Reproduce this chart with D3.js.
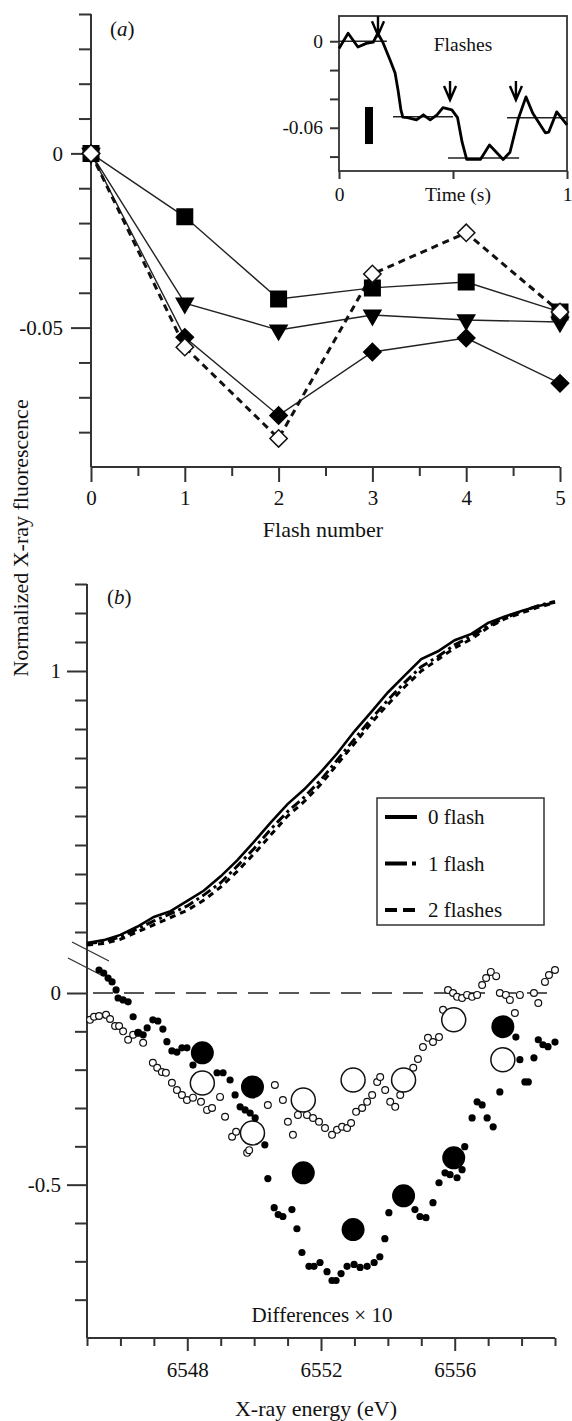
<!DOCTYPE html>
<html>
<head>
<meta charset="utf-8">
<script src="https://cdn.jsdelivr.net/npm/d3@7"></script>
<style>
  body { margin: 0; background: #fff; }
  svg { display: block; }
</style>
</head>
<body>
<svg id="chart" width="572" height="1421"></svg>
<script>
// ---- panel (a): flash series ----
var flashNumbers = [0, 1, 2, 3, 4, 5];
var squareVals = [0, -0.0182, -0.0418, -0.0386, -0.0369, -0.0455];
var triangleVals = [0, -0.043, -0.0507, -0.0464, -0.0478, -0.0484];
var diamondVals = [0, -0.0528, -0.0752, -0.057, -0.053, -0.066];
var openDiamondVals = [0, -0.0556, -0.0818, -0.0346, -0.0228, -0.0455];

// ---- inset: time trace ----
var insetTime = [0, 0.04, 0.083, 0.12, 0.15, 0.17, 0.193, 0.224, 0.246, 0.259, 0.272, 0.28, 0.30, 0.34, 0.37, 0.40, 0.43, 0.456, 0.495, 0.52, 0.54, 0.56, 0.62, 0.66, 0.72, 0.75, 0.785, 0.82, 0.85, 0.905, 0.92, 0.955, 1.0];
var insetSignal = [-0.005, 0.0055, -0.004, -0.0015, -0.0007, 0.0055, -0.001, -0.013, -0.022, -0.034, -0.048, -0.0527, -0.053, -0.0545, -0.051, -0.0545, -0.051, -0.046, -0.0476, -0.053, -0.070, -0.082, -0.082, -0.072, -0.082, -0.077, -0.0545, -0.0386, -0.05, -0.0635, -0.063, -0.049, -0.058];
var levelStart = [0, 0.237, 0.478, 0.737];
var levelEnd = [0.21, 0.5, 0.79, 1.0];
var levelValue = [0, -0.0524, -0.081, -0.053];
var arrowTime = [0.171, 0.487, 0.776];
var arrowTip = [0.0042, -0.0408, -0.0408];

// ---- panel (b): edge spectra ----
var edgeEnergy = [6545, 6545.5, 6546, 6546.5, 6547, 6547.5, 6548, 6548.5, 6549, 6549.5, 6550, 6550.5, 6551, 6551.5, 6552, 6552.5, 6553, 6553.5, 6554, 6554.5, 6555, 6555.5, 6556, 6556.5, 6557, 6557.5, 6558, 6558.5, 6559];
var flash0 = [0.062, 0.072, 0.09, 0.118, 0.152, 0.172, 0.207, 0.243, 0.292, 0.348, 0.412, 0.478, 0.541, 0.592, 0.652, 0.718, 0.792, 0.858, 0.926, 0.984, 1.041, 1.068, 1.106, 1.128, 1.166, 1.188, 1.207, 1.224, 1.236];
var flash1 = [0.06, 0.066, 0.083, 0.11, 0.138, 0.163, 0.19, 0.228, 0.27, 0.328, 0.388, 0.455, 0.515, 0.565, 0.625, 0.695, 0.765, 0.835, 0.9, 0.96, 1.015, 1.05, 1.09, 1.12, 1.155, 1.183, 1.205, 1.225, 1.24];
var flash2 = [0.055, 0.06, 0.075, 0.1, 0.125, 0.15, 0.175, 0.21, 0.255, 0.31, 0.37, 0.435, 0.5, 0.55, 0.61, 0.68, 0.75, 0.82, 0.885, 0.945, 1.0, 1.04, 1.08, 1.11, 1.15, 1.18, 1.2, 1.22, 1.235];

// differences x 10
var filledDotE = [6545.36, 6545.5, 6545.63, 6545.75, 6545.87, 6545.93, 6546.08, 6546.23, 6546.38, 6546.53, 6546.68, 6546.8, 6546.97, 6547.12, 6547.27, 6547.39, 6547.54, 6547.69, 6547.84, 6547.99, 6548.17, 6548.89, 6549.07, 6549.28, 6549.43, 6549.58, 6549.73, 6549.88, 6550.03, 6550.32, 6550.41, 6550.6, 6550.72, 6550.86, 6551.13, 6551.28, 6551.43, 6551.64, 6551.79, 6551.97, 6552.18, 6552.33, 6552.45, 6552.6, 6552.78, 6552.99, 6553.17, 6553.38, 6553.59, 6553.76, 6553.91, 6554.03, 6554.81, 6554.96, 6555.14, 6555.35, 6555.53, 6555.71, 6555.86, 6556.07, 6556.22, 6556.3, 6556.52, 6556.67, 6556.82, 6556.97, 6557.15, 6557.35, 6557.83, 6557.95, 6558.1, 6558.2, 6558.37, 6558.5, 6558.64, 6558.79, 6559.0];
var filledDotV = [0.06, 0.052, 0.039, 0.029, 0.008, -0.013, -0.018, -0.023, -0.062, -0.104, -0.109, -0.091, -0.07, -0.073, -0.094, -0.127, -0.151, -0.154, -0.143, -0.143, -0.188, -0.208, -0.208, -0.227, -0.266, -0.297, -0.305, -0.313, -0.326, -0.396, -0.484, -0.56, -0.578, -0.583, -0.565, -0.615, -0.677, -0.713, -0.713, -0.703, -0.727, -0.75, -0.75, -0.732, -0.713, -0.708, -0.716, -0.713, -0.703, -0.688, -0.641, -0.573, -0.565, -0.583, -0.586, -0.547, -0.495, -0.469, -0.474, -0.482, -0.461, -0.401, -0.326, -0.284, -0.292, -0.326, -0.349, -0.258, -0.115, -0.174, -0.232, -0.232, -0.169, -0.122, -0.135, -0.14, -0.128];
var openDotE = [6545.09, 6545.21, 6545.36, 6545.57, 6545.69, 6545.84, 6545.96, 6546.08, 6546.23, 6546.38, 6546.53, 6546.68, 6546.97, 6547.1, 6547.24, 6547.36, 6547.54, 6547.69, 6547.84, 6547.99, 6548.17, 6548.41, 6548.59, 6548.74, 6548.98, 6549.13, 6549.34, 6549.46, 6549.79, 6549.85, 6550.41, 6550.62, 6550.86, 6551.01, 6551.16, 6551.31, 6551.58, 6551.76, 6551.94, 6552.12, 6552.33, 6552.48, 6552.63, 6552.78, 6552.9, 6553.05, 6553.23, 6553.38, 6553.53, 6553.68, 6553.77, 6553.92, 6554.07, 6554.22, 6554.37, 6554.76, 6554.9, 6555.05, 6555.2, 6555.35, 6555.53, 6555.65, 6555.8, 6555.95, 6556.07, 6556.22, 6556.37, 6556.52, 6556.67, 6556.82, 6556.94, 6557.08, 6557.24, 6557.35, 6557.53, 6557.65, 6557.8, 6557.95, 6558.37, 6558.5, 6558.7, 6558.82, 6559.0];
var openDotV = [-0.07, -0.062, -0.06, -0.057, -0.068, -0.086, -0.086, -0.1, -0.122, -0.109, -0.104, -0.13, -0.182, -0.195, -0.206, -0.208, -0.234, -0.253, -0.266, -0.279, -0.273, -0.284, -0.305, -0.3, -0.271, -0.323, -0.375, -0.362, -0.417, -0.41, -0.292, -0.24, -0.279, -0.336, -0.37, -0.318, -0.318, -0.326, -0.336, -0.352, -0.37, -0.357, -0.349, -0.352, -0.339, -0.31, -0.3, -0.284, -0.266, -0.232, -0.219, -0.253, -0.284, -0.297, -0.266, -0.195, -0.172, -0.141, -0.117, -0.128, -0.115, -0.044, 0.008, 0, -0.01, -0.013, -0.005, -0.01, -0.005, 0.021, 0.039, 0.055, 0.044, 0, -0.005, -0.018, -0.052, -0.005, 0, -0.026, 0.029, 0.047, 0.06];
var avgEnergy = [6548.45, 6549.95, 6551.47, 6552.96, 6554.47, 6555.97, 6557.44];
var avgFilled = [-0.156, -0.245, -0.469, -0.617, -0.529, -0.43, -0.088];
var avgOpen = [-0.235, -0.365, -0.279, -0.227, -0.227, -0.07, -0.174];

var legendLabels = ["0 flash", "1 flash", "2 flashes"];
var legendDash = ["none", "22,5,4,5", "12,6"];

var SERIF = '"Liberation Serif", "Times New Roman", serif';
var INK = "#111";
var AX = "#333";
var svg = d3.select("#chart");

var fmt = function (d) { return String(d); };

// draws one set of ticks (labels optional), no domain line
function tickSet(axisFn, scale, vals, size, pad, withLabels, tx, ty, fs) {
    var ax = axisFn(scale).tickValues(vals).tickSize(size).tickPadding(pad)
        .tickFormat(withLabels ? fmt : "");
    var g = svg.append("g")
        .attr("transform", "translate(" + tx + "," + ty + ")")
        .call(ax);
    g.select(".domain").remove();
    g.attr("font-family", SERIF).attr("font-size", fs || 21);
    g.selectAll("line").attr("stroke", AX).attr("stroke-width", 2);
    g.selectAll("text").attr("fill", INK);
    return g;
}

function line(x1, y1, x2, y2, w) {
    return svg.append("line")
        .attr("x1", x1).attr("y1", y1).attr("x2", x2).attr("y2", y2)
        .attr("stroke", AX).attr("stroke-width", w || 2);
}

// ================= panel (a) =================
var xA = d3.scaleLinear().domain([0, 5]).range([91, 560]);
var yA = d3.scaleLinear().domain([-0.09, 0.04]).range([467, 14]);

line(xA(0), yA(0.04), xA(0), yA(-0.09));
line(xA(0), yA(-0.09), xA(5), yA(-0.09));
tickSet(d3.axisLeft, yA, [0.04, 0.03, 0.02, 0.01, -0.01, -0.02, -0.03, -0.04, -0.06, -0.07, -0.08], 12, 8, false, xA(0), 0);
tickSet(d3.axisLeft, yA, [0, -0.05], 20, 8, true, xA(0), 0);
tickSet(d3.axisBottom, xA, [0.5, 1.5, 2.5, 3.5, 4.5], 9, 8, false, 0, yA(-0.09));
tickSet(d3.axisBottom, xA, flashNumbers, 15, 8, true, 0, yA(-0.09));

svg.append("text").attr("x", 110).attr("y", 36)
    .attr("font-family", SERIF).attr("font-size", 21).attr("fill", INK)
    .html('(<tspan font-style="italic">a</tspan>)');
svg.append("text").attr("x", 323).attr("y", 537).attr("text-anchor", "middle")
    .attr("font-family", SERIF).attr("font-size", 22).attr("fill", INK)
    .text("Flash number");

var pts = function (vals) { return flashNumbers.map(function (f, i) { return [f, vals[i]]; }); };
var lineA = d3.line().x(function (d) { return xA(d[0]); }).y(function (d) { return yA(d[1]); });

[squareVals, triangleVals, diamondVals].forEach(function (vals) {
    svg.append("path").attr("d", lineA(pts(vals)))
        .attr("fill", "none").attr("stroke", "#222").attr("stroke-width", 1.4);
});
svg.append("path").attr("d", lineA(pts(openDiamondVals)))
    .attr("fill", "none").attr("stroke", "#111").attr("stroke-width", 3)
    .attr("stroke-dasharray", "7,5");

function markers(vals, type, size, rot, fill, stroke) {
    svg.append("g").selectAll("path").data(pts(vals)).join("path")
        .attr("d", d3.symbol().type(type).size(size))
        .attr("transform", function (d) { return "translate(" + xA(d[0]) + "," + yA(d[1]) + ") rotate(" + rot + ")"; })
        .attr("fill", fill).attr("stroke", stroke).attr("stroke-width", 1.5);
}
markers(squareVals, d3.symbolSquare, 240, 0, "#000", "#000");
markers(triangleVals, d3.symbolTriangle, 125, 180, "#000", "#000");
markers(diamondVals, d3.symbolSquare, 150, 45, "#000", "#000");
markers(openDiamondVals, d3.symbolSquare, 150, 45, "#fff", "#111");

// ---------- inset ----------
var xI = d3.scaleLinear().domain([0, 1]).range([339, 567]);
var yI = d3.scaleLinear().domain([-0.09, 0.0175]).range([171, 16]);

svg.append("rect").attr("x", xI(0)).attr("y", yI(0.0175))
    .attr("width", xI(1) - xI(0)).attr("height", yI(-0.09) - yI(0.0175))
    .attr("fill", "none").attr("stroke", AX).attr("stroke-width", 1.8);
tickSet(d3.axisLeft, yI, [-0.02, -0.04, -0.08], 9, 7, false, xI(0), 0, 19.5);
tickSet(d3.axisLeft, yI, [0, -0.06], 9, 7, true, xI(0), 0, 19.5);
tickSet(d3.axisBottom, xI, [0.5], 8, 8, false, 0, yI(-0.09), 19.5);
tickSet(d3.axisBottom, xI, [0, 1], 8, 8, true, 0, yI(-0.09), 19.5);
svg.append("text").attr("x", 458).attr("y", 201).attr("text-anchor", "middle")
    .attr("font-family", SERIF).attr("font-size", 19.5).attr("fill", INK).text("Time (s)");
svg.append("text").attr("x", 463).attr("y", 51).attr("text-anchor", "middle")
    .attr("font-family", SERIF).attr("font-size", 19.5).attr("fill", INK).text("Flashes");

levelValue.forEach(function (v, i) {
    line(xI(levelStart[i]), yI(v), xI(levelEnd[i]), yI(v), 1.5).attr("stroke", "#222");
});
svg.append("path")
    .attr("d", d3.line().x(function (d, i) { return xI(insetTime[i]); }).y(function (d) { return yI(d); })(insetSignal))
    .attr("fill", "none").attr("stroke", "#000").attr("stroke-width", 2.8).attr("stroke-linejoin", "round");

arrowTime.forEach(function (t, i) {
    var ax = xI(t), ay = yI(arrowTip[i]);
    svg.append("path")
        .attr("d", "M" + ax + "," + (ay - 19) + "V" + ay + "M" + (ax - 6) + "," + (ay - 14) + "L" + ax + "," + ay + "L" + (ax + 6) + "," + (ay - 14))
        .attr("fill", "none").attr("stroke", "#000").attr("stroke-width", 2.4);
});
// vertical scale bar
svg.append("rect").attr("x", xI(0.114)).attr("y", yI(-0.0456))
    .attr("width", xI(0.149) - xI(0.114)).attr("height", yI(-0.0713) - yI(-0.0456))
    .attr("fill", "#000");

// ================= panel (b) =================
var xB = d3.scaleLinear().domain([6545, 6559]).range([87, 555]);
var yTop = d3.scaleLinear().domain([0, 1.3]).range([961, 584]);
var yLow = d3.scaleLinear().domain([-0.9, 0]).range([1338, 993]);

line(xB(6545), yTop(1.3), xB(6545), yLow(-0.9));
line(xB(6545), yLow(-0.9), xB(6559), yLow(-0.9));
tickSet(d3.axisLeft, yTop, [1.3, 1.2, 1.1, 0.9, 0.8, 0.7, 0.6, 0.5, 0.4, 0.3, 0.2, 0.1], 12, 6, false, xB(6545), 0);
tickSet(d3.axisLeft, yTop, [1], 20, 6, true, xB(6545), 0);
tickSet(d3.axisLeft, yLow, [-0.1, -0.2, -0.3, -0.4, -0.6, -0.7, -0.8], 12, 6, false, xB(6545), 0);
tickSet(d3.axisLeft, yLow, [0, -0.5], 20, 6, true, xB(6545), 0);
tickSet(d3.axisBottom, xB, [6545, 6546, 6547, 6549, 6550, 6551, 6553, 6554, 6555, 6557, 6558, 6559], 8, 11, false, 0, yLow(-0.9));
tickSet(d3.axisBottom, xB, [6548, 6552, 6556], 13, 11, true, 0, yLow(-0.9));

// axis break marks
line(72, 942, 109, 961, 1.4);
line(68, 958, 103, 976, 1.4);

svg.append("text").attr("x", 107).attr("y", 604)
    .attr("font-family", SERIF).attr("font-size", 21).attr("fill", INK)
    .html('(<tspan font-style="italic">b</tspan>)');
svg.append("text").attr("x", 316).attr("y", 1416).attr("text-anchor", "middle")
    .attr("font-family", SERIF).attr("font-size", 22).attr("fill", INK)
    .text("X-ray energy (eV)");
svg.append("text").attr("x", 322).attr("y", 1322).attr("text-anchor", "middle")
    .attr("font-family", SERIF).attr("font-size", 21).attr("fill", INK)
    .text("Differences \u00d7 10");
svg.append("text")
    .attr("transform", "translate(28,538) rotate(-90)").attr("text-anchor", "middle")
    .attr("font-family", SERIF).attr("font-size", 22).attr("fill", INK)
    .text("Normalized X-ray fluorescence");

// edge curves
var curveLine = d3.line().x(function (d, i) { return xB(edgeEnergy[i]); }).y(function (d) { return yTop(d); });
[flash2, flash1, flash0].forEach(function (vals, k) {
    var idx = 2 - k;
    svg.append("path").attr("d", curveLine(vals))
        .attr("fill", "none").attr("stroke", "#000")
        .attr("stroke-width", idx === 0 ? 2.6 : 3)
        .attr("stroke-dasharray", idx === 0 ? null : (idx === 1 ? "10,4,3,4" : "6,5"));
});

// legend
svg.append("rect").attr("x", 377).attr("y", 798).attr("width", 167).attr("height", 127)
    .attr("fill", "#fff").attr("stroke", AX).attr("stroke-width", 1.5);
legendLabels.forEach(function (lab, i) {
    var ly = 817 + i * 46.5;
    svg.append("line").attr("x1", 385).attr("x2", 417).attr("y1", ly).attr("y2", ly)
        .attr("stroke", "#000").attr("stroke-width", 4)
        .attr("stroke-dasharray", legendDash[i] === "none" ? null : legendDash[i]);
    svg.append("text").attr("x", 428).attr("y", ly + 7)
        .attr("font-family", SERIF).attr("font-size", 21).attr("fill", INK).text(lab);
});

// zero line of the differences
svg.append("line").attr("x1", xB(6545)).attr("x2", xB(6559))
    .attr("y1", yLow(0)).attr("y2", yLow(0))
    .attr("stroke", "#222").attr("stroke-width", 1.4).attr("stroke-dasharray", "20,11")
    .attr("stroke-dashoffset", -6);

// difference points
svg.append("g").selectAll("circle").data(openDotV).join("circle")
    .attr("cx", function (d, i) { return xB(openDotE[i]); })
    .attr("cy", function (d) { return yLow(d); })
    .attr("r", 3.4).attr("fill", "#fff").attr("stroke", "#111").attr("stroke-width", 1.2);
svg.append("g").selectAll("circle").data(avgOpen).join("circle")
    .attr("cx", function (d, i) { return xB(avgEnergy[i]); })
    .attr("cy", function (d) { return yLow(d); })
    .attr("r", 12).attr("fill", "#fff").attr("stroke", "#111").attr("stroke-width", 1.5);
svg.append("g").selectAll("circle").data(filledDotV).join("circle")
    .attr("cx", function (d, i) { return xB(filledDotE[i]); })
    .attr("cy", function (d) { return yLow(d); })
    .attr("r", 3.6).attr("fill", "#000");
svg.append("g").selectAll("circle").data(avgFilled).join("circle")
    .attr("cx", function (d, i) { return xB(avgEnergy[i]); })
    .attr("cy", function (d) { return yLow(d); })
    .attr("r", 11.5).attr("fill", "#000");
</script>
</body>
</html>
